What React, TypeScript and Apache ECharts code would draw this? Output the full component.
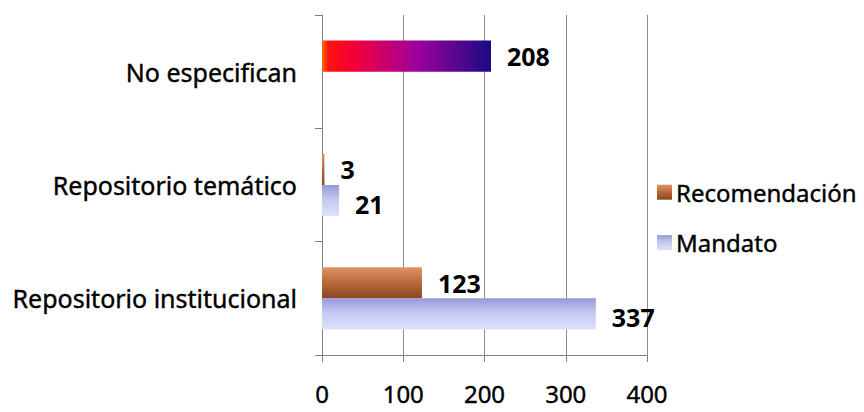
import React, { useEffect, useRef } from "react";
import * as echarts from "echarts";

const categories = ["Repositorio institucional", "Repositorio temático", "No especifican"];
const recomendacion = [123, 3, 208];
const mandato: (number | null)[] = [337, 21, null];
const xTicks = [0, 100, 200, 300, 400];
const highlightCategory = "No especifican";

export default function App() {
  const ref = useRef<HTMLDivElement>(null);
  useEffect(() => {
    if (!ref.current) return;
    const chart = echarts.init(ref.current, null, { renderer: "svg" });
    const font = "'Noto Sans', 'Open Sans', sans-serif";
    const brown = new echarts.graphic.LinearGradient(0, 0, 0, 1, [
      { offset: 0, color: "#dc9468" },
      { offset: 0.5, color: "#b8683a" },
      { offset: 1, color: "#8a4520" },
    ]);
    const lavender = new echarts.graphic.LinearGradient(0, 0, 0, 1, [
      { offset: 0, color: "#9699d8" },
      { offset: 0.45, color: "#c3c7f0" },
      { offset: 1, color: "#dfe2fb" },
    ]);
    const redPurple = new echarts.graphic.LinearGradient(0, 0, 1, 0, [
      { offset: 0, color: "#ff6a00" },
      { offset: 0.04, color: "#ff1010" },
      { offset: 0.2, color: "#f0003a" },
      { offset: 0.55, color: "#a0009c" },
      { offset: 1, color: "#1c0a84" },
    ]);
    const label = {
      show: true,
      position: "right",
      distance: 16,
      color: "#000",
      fontSize: 25,
      fontWeight: "bold",
      fontFamily: font,
    };
    const txt = {
      color: "#000",
      fontFamily: font,
      fontSize: 25,
      textBorderColor: "#000",
      textBorderWidth: 0.4,
    };
    chart.setOption({
      animation: false,
      backgroundColor: "#ffffff",
      grid: { left: 322, right: 217, top: 15, bottom: 57, containLabel: false },
      legend: {
        orient: "vertical",
        left: 652,
        top: 175,
        itemWidth: 15,
        itemHeight: 15,
        itemGap: 26,
        icon: "rect",
        textStyle: { ...txt, fontSize: 24, padding: [0, 0, 0, -1] },
        data: ["Recomendación", "Mandato"],
      },
      xAxis: {
        type: "value",
        min: 0,
        max: 400,
        interval: 100,
        axisLine: { show: true, lineStyle: { color: "#7f7f7f" } },
        axisTick: { show: true, length: 7, lineStyle: { color: "#7f7f7f" } },
        splitLine: { show: true, lineStyle: { color: "#8c8c8c", width: 1 } },
        axisLabel: {
          ...txt,
          fontSize: 24,
          margin: 26,
          formatter: (v: number) => (xTicks.includes(v) ? String(v) : ""),
        },
      },
      yAxis: {
        type: "category",
        data: categories,
        axisLine: { show: true, lineStyle: { color: "#7f7f7f" } },
        axisTick: { show: true, length: 7, lineStyle: { color: "#7f7f7f" } },
        axisLabel: { ...txt, margin: 25 },
      },
      series: [
        {
          name: "Recomendación",
          type: "bar",
          data: recomendacion.map((v, i) =>
            categories[i] === highlightCategory ? { value: v, itemStyle: { color: redPurple } } : v
          ),
          barGap: "0%",
          barCategoryGap: "45%",
          itemStyle: { color: brown },
          label,
        },
        {
          name: "Mandato",
          type: "bar",
          data: mandato,
          barGap: "0%",
          barCategoryGap: "45%",
          itemStyle: { color: lavender },
          label: { ...label, offset: [0, 3] },
        },
      ],
    });
    return () => chart.dispose();
  }, []);
  return <div ref={ref} style={{ width: 864, height: 412, position: "absolute", left: 0, top: 0 }} />;
}
